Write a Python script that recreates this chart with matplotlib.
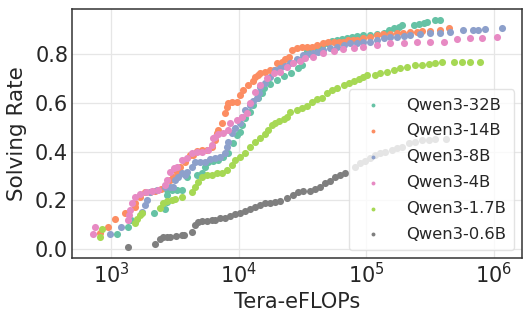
import matplotlib
matplotlib.use("Agg")
import matplotlib.pyplot as plt

models = ["Qwen3-32B", "Qwen3-14B", "Qwen3-8B", "Qwen3-4B", "Qwen3-1.7B", "Qwen3-0.6B"]
colors = ["#66c2a5", "#fc8d62", "#8da0cb", "#e78ac3", "#a6d854", "#7f7f7f"]

# Qwen3-32B
x_32b = [1110, 1370, 1430, 2160, 2650, 2730, 2760, 2760, 3000, 3300, 3590, 3960, 4750, 5190,
         5460, 5800, 6350, 6950, 7600, 8320, 9110, 9700, 10270, 10580, 11250, 12310, 13000,
         14310, 15210, 15700, 17670, 20050, 22750, 25810, 29450, 31320, 32230, 34270, 36380,
         41050, 44930, 49170, 53820, 58900, 64480, 70560, 77200, 84500, 94900, 107500, 121300,
         136700, 149600, 163700, 179100, 190500, 234800, 257100, 281400, 299200, 347600, 380500]
y_32b = [0.060, 0.092, 0.119, 0.149, 0.163, 0.194, 0.222, 0.242, 0.243, 0.242, 0.242, 0.297,
         0.304, 0.311, 0.338, 0.357, 0.361, 0.366, 0.379, 0.395, 0.434, 0.468, 0.482, 0.509,
         0.537, 0.564, 0.591, 0.619, 0.639, 0.660, 0.678, 0.694, 0.710, 0.723, 0.742, 0.756,
         0.784, 0.813, 0.817, 0.824, 0.834, 0.845, 0.852, 0.858, 0.862, 0.865, 0.871, 0.875,
         0.879, 0.879, 0.883, 0.888, 0.897, 0.906, 0.913, 0.920, 0.920, 0.924, 0.927, 0.931,
         0.938, 0.938]

# Qwen3-14B
x_14b = [820, 950, 1075, 1290, 1540, 1540, 1690, 1850, 2020, 2210, 2480, 2900, 3080, 3270,
         3480, 3800, 4170, 4420, 4750, 5190, 5630, 6160, 6550, 6750, 6950, 7380, 7840, 8080,
         8320, 8930, 9700, 10270, 10890, 11900, 13000, 13470, 14310, 14750, 16140, 17670,
         18790, 19930, 21840, 23160, 24630, 26200, 28630, 31320, 34270, 37510, 41270, 46230,
         50600, 55440, 60650, 66350, 72600, 79400, 84500, 94900, 107500, 121300, 136000,
         154300, 174000, 195000, 221300, 249600, 275000, 317600, 380500, 441500]
y_14b = [0.064, 0.092, 0.122, 0.147, 0.174, 0.190, 0.215, 0.235, 0.235, 0.240, 0.245, 0.283,
         0.297, 0.317, 0.338, 0.359, 0.386, 0.386, 0.404, 0.407, 0.407, 0.418, 0.448, 0.475,
         0.489, 0.516, 0.557, 0.584, 0.598, 0.604, 0.605, 0.632, 0.653, 0.674, 0.690, 0.708,
         0.715, 0.722, 0.728, 0.733, 0.735, 0.763, 0.769, 0.780, 0.790, 0.817, 0.824, 0.828,
         0.830, 0.831, 0.838, 0.845, 0.848, 0.851, 0.851, 0.851, 0.856, 0.858, 0.858, 0.864,
         0.872, 0.879, 0.881, 0.883, 0.887, 0.887, 0.889, 0.892, 0.895, 0.896, 0.899, 0.906]

# Qwen3-8B
x_8b = [982, 1200, 1750, 1850, 1920, 2020, 2280, 2650, 2900, 3080, 3180, 3360, 3590, 3800,
        3960, 4300, 4560, 4990, 5460, 5980, 6550, 7160, 7840, 8080, 8320, 8850, 9390, 10270,
        10580, 11250, 12310, 13000, 13880, 14360, 14750, 16140, 17670, 19340, 21160, 23160,
        25350, 28630, 32230, 35270, 38590, 42220, 46230, 52200, 58900, 66800, 74900, 84500,
        94900, 107500, 121300, 136700, 154300, 174000, 196300, 221300, 265200, 317600,
        380500, 455800, 578000, 690000, 756000, 857500, 1159000]
y_8b = [0.060, 0.092, 0.153, 0.181, 0.201, 0.235, 0.242, 0.253, 0.256, 0.256, 0.283, 0.296,
        0.311, 0.304, 0.317, 0.337, 0.359, 0.359, 0.359, 0.368, 0.372, 0.379, 0.393, 0.420,
        0.441, 0.475, 0.497, 0.516, 0.543, 0.571, 0.591, 0.606, 0.619, 0.641, 0.667, 0.680,
        0.708, 0.735, 0.742, 0.752, 0.763, 0.780, 0.797, 0.801, 0.804, 0.810, 0.817, 0.824,
        0.831, 0.838, 0.845, 0.846, 0.851, 0.851, 0.858, 0.865, 0.869, 0.872, 0.876, 0.879,
        0.883, 0.886, 0.888, 0.892, 0.899, 0.899, 0.899, 0.902, 0.906]

# Qwen3-4B
x_4b = [720, 750, 1350, 1390, 1410, 1450, 1540, 1690, 1890, 2100, 2340, 2650, 2730, 2900,
        3100, 3270, 3590, 3930, 4300, 4750, 5190, 5800, 6160, 6350, 6550, 6950, 7600, 8320,
        8580, 9700, 10580, 11580, 12310, 13470, 14750, 16650, 18790, 21160, 23880, 26900,
        30370, 33240, 38590, 46230, 55440, 66350, 79600, 94900, 121300, 154300, 196300,
        249600, 317600, 405000, 515000, 654000, 807800, 1060000]
y_4b = [0.060, 0.092, 0.119, 0.140, 0.160, 0.188, 0.215, 0.226, 0.234, 0.240, 0.242, 0.263,
        0.283, 0.317, 0.333, 0.338, 0.366, 0.372, 0.393, 0.400, 0.400, 0.407, 0.427, 0.455,
        0.461, 0.472, 0.475, 0.489, 0.516, 0.530, 0.543, 0.557, 0.598, 0.646, 0.674, 0.701,
        0.722, 0.728, 0.749, 0.763, 0.772, 0.783, 0.790, 0.804, 0.814, 0.820, 0.824, 0.828,
        0.838, 0.845, 0.845, 0.849, 0.851, 0.851, 0.861, 0.865, 0.865, 0.872]

# Qwen3-1.7B
x_1_7b = [820, 845, 1540, 1590, 1690, 1740, 2420, 2570, 2730, 2990, 3180, 3590, 4300, 4560,
          4840, 5140, 5630, 6160, 6750, 7380, 8080, 8850, 9390, 10270, 11250, 12310, 13470,
          14750, 16140, 17140, 18220, 19340, 20560, 22490, 23880, 25350, 28630, 31320, 34270,
          37510, 41050, 44930, 49170, 53820, 58900, 66800, 73100, 79600, 87100, 94900, 100700,
          117700, 128800, 145400, 163700, 184800, 208500, 242300, 273400, 308000, 347600,
          392300, 483600, 563000, 654000, 783500]
y_1_7b = [0.051, 0.082, 0.106, 0.122, 0.140, 0.149, 0.167, 0.190, 0.197, 0.201, 0.204, 0.215,
          0.235, 0.256, 0.276, 0.297, 0.304, 0.304, 0.311, 0.311, 0.324, 0.345, 0.366, 0.379,
          0.393, 0.420, 0.441, 0.455, 0.471, 0.489, 0.509, 0.516, 0.526, 0.534, 0.543, 0.564,
          0.571, 0.578, 0.589, 0.605, 0.615, 0.621, 0.639, 0.653, 0.660, 0.674, 0.680, 0.690,
          0.698, 0.708, 0.715, 0.715, 0.724, 0.728, 0.735, 0.742, 0.746, 0.756, 0.756, 0.760,
          0.765, 0.769, 0.769, 0.769, 0.769, 0.769]

# Qwen3-0.6B
x_0_6b = [1370, 2210, 2420, 2570, 2730, 2900, 3240, 3590, 3750, 4300, 4560, 4840, 5140, 5630,
          6160, 6550, 7160, 7840, 8580, 9390, 10270, 11250, 12310, 13470, 14750, 16140, 17670,
          19340, 21160, 23880, 26900, 29450, 32230, 36380, 39810, 43570, 47690, 52200, 57130,
          62530, 68440, 82000, 89700, 98200, 107500, 117700, 128800, 141000, 159000, 174000,
          190500, 214600, 242300, 273400, 308000, 347600, 424000]
y_0_6b = [0.009, 0.021, 0.041, 0.048, 0.048, 0.048, 0.053, 0.057, 0.057, 0.071, 0.099, 0.112,
          0.115, 0.115, 0.118, 0.119, 0.126, 0.129, 0.136, 0.143, 0.149, 0.156, 0.163, 0.171,
          0.181, 0.188, 0.190, 0.192, 0.198, 0.211, 0.222, 0.233, 0.239, 0.239, 0.245, 0.256,
          0.270, 0.280, 0.294, 0.304, 0.311, 0.338, 0.352, 0.361, 0.372, 0.386, 0.393, 0.400,
          0.407, 0.414, 0.420, 0.434, 0.441, 0.448, 0.448, 0.451, 0.452]

series_x = [x_32b, x_14b, x_8b, x_4b, x_1_7b, x_0_6b]
series_y = [y_32b, y_14b, y_8b, y_4b, y_1_7b, y_0_6b]

plt.rcParams["font.family"] = ["DejaVu Sans"]
fig = plt.figure(figsize=(5.32, 3.19), dpi=100)
ax = fig.add_axes([0.136, 0.191, 0.846, 0.780])

for xs, ys, c, name in zip(series_x, series_y, colors, models):
    ax.scatter(xs, ys, s=26, color=c, linewidths=0, label=name, zorder=3)

ax.set_xscale("log")
ax.set_xlim(498, 1.675e6)
ax.set_ylim(-0.037, 0.984)
ax.set_yticks([0.0, 0.2, 0.4, 0.6, 0.8])
ax.grid(True, which="major", color="#e6e6e6", linewidth=0.9)
ax.set_axisbelow(True)
ax.tick_params(which="both", length=0, labelsize=15, colors="#262626", pad=3)
for sp in ax.spines.values():
    sp.set_color("#333333")
    sp.set_linewidth(1.1)
ax.set_xlabel("Tera-eFLOPs", fontsize=15, color="#262626", labelpad=3)
ax.set_ylabel("Solving Rate", fontsize=15.5, color="#262626", labelpad=6)

leg = ax.legend(loc="lower right", fontsize=11.8, markerscale=0.55, frameon=True,
                labelspacing=0.66, handletextpad=1.0, borderpad=0.5, borderaxespad=0.5)
leg.get_frame().set_edgecolor("#dddddd")
leg.get_frame().set_alpha(0.8)
for t in leg.get_texts():
    t.set_color("#262626")

fig.savefig("out.png", dpi=100)
